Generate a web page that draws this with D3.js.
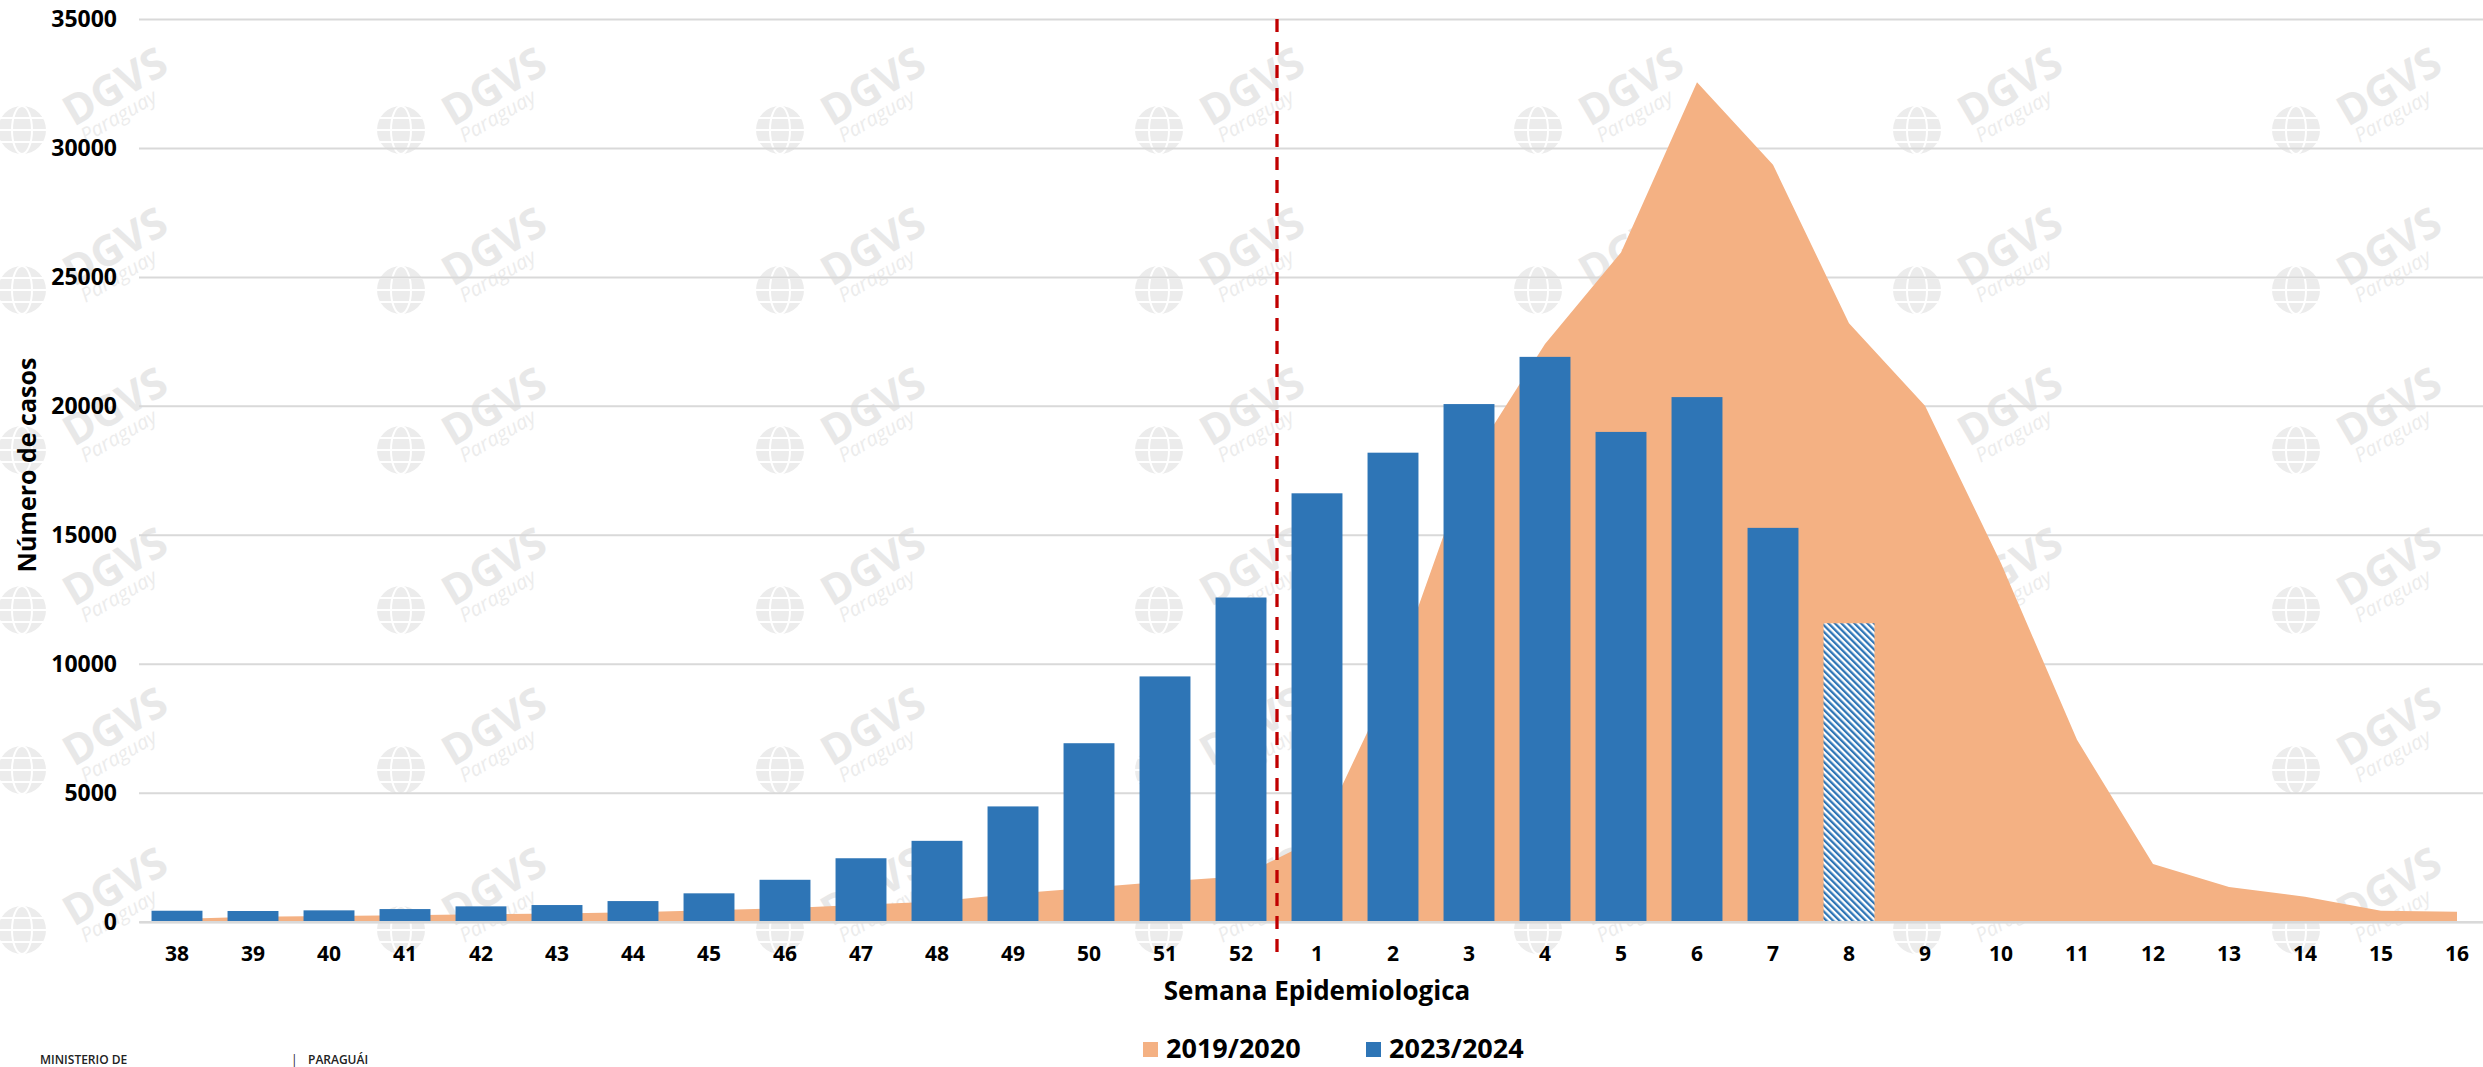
<!DOCTYPE html>
<html>
<head>
<meta charset="utf-8">
<script src="https://cdn.jsdelivr.net/npm/d3@7"></script>
<style>
  body { margin: 0; background: #fff; overflow: hidden; }
  #viz svg { display: block; font-family: "Open Sans", "Noto Sans", sans-serif; }
</style>
</head>
<body>
<div id="viz"></div>
<script>
// semanas epidemiologicas (38-52 de un año, 1-16 del siguiente)
const weeks = ["38","39","40","41","42","43","44","45","46","47","48","49","50","51","52",
               "1","2","3","4","5","6","7","8","9","10","11","12","13","14","15","16"];

// temporada 2019/2020 (area)
const cases2019 = [100, 190, 220, 250, 290, 320, 370, 440, 520, 660, 780, 1080, 1320, 1560, 1760,
                   3220, 9450, 17750, 22400, 25950, 32550, 29350, 23200, 20000, 13900, 7050, 2240, 1350, 970, 420, 390];

// temporada 2023/2024 (barras), hasta la semana 8
const cases2023 = [425, 415, 440, 490, 595, 646, 800, 1100, 1625, 2460, 3135, 4470, 6920, 9510, 12570,
                   16610, 18185, 20070, 21900, 18990, 20340, 15270, 11570];

// semana incompleta (barra rayada)
const partialWeek = "8";

const yTicks = [0, 5000, 10000, 15000, 20000, 25000, 30000, 35000];
const seriesNames = ["2019/2020", "2023/2024"];
const seriesColors = ["#F4B183", "#2E75B6"];

function drawViz() {
  d3.select("#viz").html("");

  var width = 2483, height = 1067;
  var margin = {top: 19, left: 139, bottom: 145};
  var step = 76;

  var svg = d3.select("#viz")
    .append("svg")
      .attr("width", width)
      .attr("height", height);

  // hatch for the incomplete week
  var defs = svg.append("defs");
  var hatch = defs.append("pattern")
    .attr("id", "hatch")
    .attr("patternUnits", "userSpaceOnUse")
    .attr("width", 4.6)
    .attr("height", 4.6)
    .attr("patternTransform", "rotate(-45)");
  hatch.append("rect").attr("width", 4.6).attr("height", 4.6).attr("fill", "#fff");
  hatch.append("rect").attr("width", 2.3).attr("height", 4.6).attr("fill", seriesColors[1]);

  // watermark (DGVS Paraguay), behind everything
  var wm = svg.append("g").attr("class", "watermark");
  for (var i = 0; i < 7; i++) {
    for (var j = 1; j < 7; j++) {
      var gx = 22 + 379 * i, gy = -30 + 160 * j;
      var w = wm.append("g").attr("transform", "translate(" + gx + "," + gy + ")");
      w.append("circle").attr("r", 24).attr("fill", "#ececec");
      w.append("ellipse").attr("rx", 10).attr("ry", 24).attr("fill", "none").attr("stroke", "#fff").attr("stroke-width", 2);
      w.append("line").attr("x1", -24).attr("x2", 24).attr("stroke", "#fff").attr("stroke-width", 2);
      w.append("line").attr("x1", -21).attr("x2", 21).attr("y1", -12).attr("y2", -12).attr("stroke", "#fff").attr("stroke-width", 2);
      w.append("line").attr("x1", -21).attr("x2", 21).attr("y1", 12).attr("y2", 12).attr("stroke", "#fff").attr("stroke-width", 2);
      w.append("text")
        .attr("transform", "translate(92,-45) rotate(-30)")
        .attr("text-anchor", "middle")
        .attr("dominant-baseline", "central")
        .attr("font-size", 42)
        .attr("font-weight", 700)
        .attr("fill", "#e8e8e8")
        .text("DGVS");
      w.append("text")
        .attr("transform", "translate(100,-8) rotate(-30)")
        .attr("text-anchor", "middle")
        .attr("font-size", 20)
        .attr("font-style", "italic")
        .attr("fill", "#ececec")
        .text("Paraguay");
    }
  }

  var x = d3.scaleBand()
    .domain(weeks)
    .range([margin.left, margin.left + weeks.length * step])
    .paddingInner(0.33)
    .paddingOuter(0.165);

  var y = d3.scaleLinear()
    .domain([0, 35000])
    .range([921.7, margin.top]);

  // y axis + gridlines
  var yAxis = svg.append("g")
    .attr("transform", "translate(" + margin.left + ",0)")
    .call(d3.axisLeft(y).tickValues(yTicks).tickSize(-(width - margin.left)).tickPadding(22).tickFormat(d3.format("d")));
  yAxis.select(".domain").remove();
  yAxis.selectAll(".tick line").attr("stroke", "#d9d9d9").attr("stroke-width", 2);
  yAxis.selectAll(".tick text")
    .attr("font-size", 23)
    .attr("font-weight", 700)
    .attr("fill", "#000")
    .attr("font-family", "'Open Sans', 'Noto Sans', sans-serif");

  // 2019/2020 area
  var areaData = weeks.map((w, i) => ({week: w, value: cases2019[i]}));
  svg.append("path")
    .datum(areaData)
    .attr("fill", seriesColors[0])
    .attr("d", d3.area()
      .x(d => x(d.week) + x.bandwidth() / 2)
      .y0(y(0))
      .y1(d => y(d.value)));

  // 2023/2024 bars
  var barData = cases2023.map((v, i) => ({week: weeks[i], value: v}));
  svg.append("g")
    .selectAll("rect")
    .data(barData)
    .join("rect")
      .attr("x", d => x(d.week))
      .attr("y", d => y(d.value))
      .attr("width", x.bandwidth())
      .attr("height", d => y(0) - y(d.value))
      .attr("fill", d => d.week === partialWeek ? "url(#hatch)" : seriesColors[1]);

  // x axis
  var xAxis = svg.append("g")
    .attr("transform", "translate(0," + y(0) + ")")
    .call(d3.axisBottom(x).tickSize(0).tickSizeOuter(0).tickPadding(24));
  xAxis.select(".domain").attr("stroke", "#d9d9d9").attr("stroke-width", 2.5);
  xAxis.selectAll(".tick text")
    .attr("font-size", 21)
    .attr("font-weight", 700)
    .attr("fill", "#000")
    .attr("font-family", "'Open Sans', 'Noto Sans', sans-serif");

  // red dashed separator between 52 and 1
  var sepX = x("52") + x.bandwidth() + (x.step() - x.bandwidth()) / 2 - 2;
  svg.append("line")
    .attr("x1", sepX).attr("x2", sepX)
    .attr("y1", y(35000)).attr("y2", 957)
    .attr("stroke", "#C00000")
    .attr("stroke-width", 3.3)
    .attr("stroke-dasharray", "13,10");

  // axis titles
  svg.append("text")
    .attr("x", (x.range()[0] + x.range()[1]) / 2)
    .attr("y", 1000)
    .attr("text-anchor", "middle")
    .attr("font-size", 26)
    .attr("font-weight", 700)
    .text("Semana Epidemiologica");

  svg.append("text")
    .attr("transform", "translate(26,465) rotate(-90)")
    .attr("text-anchor", "middle")
    .attr("dominant-baseline", "central")
    .attr("font-size", 25)
    .attr("font-weight", 700)
    .text("Número de casos");

  // legend
  var legendX = [1143, 1366];
  var legend = svg.append("g")
    .selectAll("g")
    .data(seriesNames)
    .join("g")
      .attr("transform", (d, i) => "translate(" + legendX[i] + ",1042)");
  legend.append("rect")
    .attr("width", 15).attr("height", 15)
    .attr("fill", (d, i) => seriesColors[i]);
  legend.append("text")
    .attr("x", 23).attr("y", 16)
    .attr("font-size", 27)
    .attr("font-weight", 700)
    .text(d => d);

  // logo strip at the bottom left
  svg.append("rect").attr("x", 0).attr("y", 1042).attr("width", 480).attr("height", 25).attr("fill", "#fff");
  svg.append("text").attr("x", 40).attr("y", 1064).attr("font-size", 12).attr("font-weight", 600).attr("fill", "#222").text("MINISTERIO DE");
  svg.append("text").attr("x", 291).attr("y", 1064).attr("font-size", 12).attr("fill", "#222").text("|");
  svg.append("text").attr("x", 308).attr("y", 1064).attr("font-size", 12).attr("font-weight", 600).attr("fill", "#222").text("PARAGUÁI");
}

drawViz();
</script>
</body>
</html>
